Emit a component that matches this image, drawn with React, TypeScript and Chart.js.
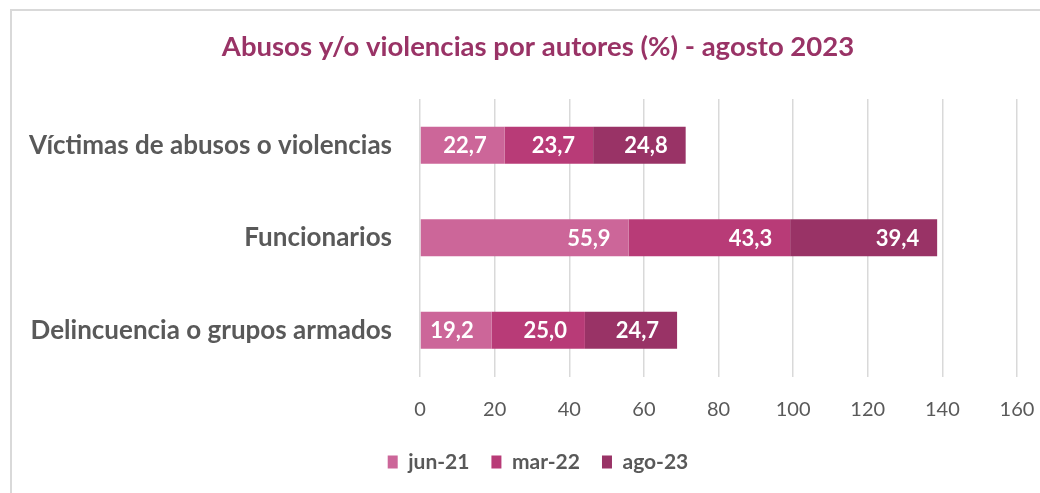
import React, { useEffect, useRef } from "react";
import { Chart, registerables } from "chart.js";

Chart.register(...registerables);

const categories = [
  "Víctimas de abusos o violencias",
  "Funcionarios",
  "Delincuencia o grupos armados",
];
const seriesNames = ["jun-21", "mar-22", "ago-23"];
const jun21 = [22.7, 55.9, 19.2];
const mar22 = [23.7, 43.3, 25.0];
const ago23 = [24.8, 39.4, 24.7];
const seriesColors = ["#CC6699", "#B83B77", "#993366"];
const xTicks = [0, 20, 40, 60, 80, 100, 120, 140, 160];
const titleText = "Abusos y/o violencias por autores (%) - agosto 2023";

const FONT = "Lato, 'Open Sans', sans-serif";

const valueLabels = {
  id: "valueLabels",
  afterDatasetsDraw(chart: any) {
    const ctx = chart.ctx;
    ctx.save();
    ctx.fillStyle = "#FFFFFF";
    ctx.font = `bold 22px ${FONT}`;
    ctx.textAlign = "right";
    ctx.textBaseline = "middle";
    chart.data.datasets.forEach((ds: any, i: number) => {
      const meta = chart.getDatasetMeta(i);
      meta.data.forEach((bar: any, j: number) => {
        const v = ds.data[j];
        const txt = v.toFixed(1).replace(".", ",");
        ctx.fillText(txt, bar.x - 18, bar.y + 1);
      });
    });
    ctx.restore();
  },
};

// shift the horizontal centring box of title and legend (the frame is wider than the view)
const centerShift = {
  id: "centerShift",
  afterLayout(chart: any) {
    [chart.titleBlock, chart.legend].forEach((b: any) => {
      if (b) {
        b.left += 49;
        b.width -= 49;
      }
    });
  },
};

export default function App() {
  const ref = useRef<HTMLCanvasElement>(null);
  useEffect(() => {
    if (!ref.current) return;
    const data = [jun21, mar22, ago23];
    const chart = new Chart(ref.current, {
      type: "bar",
      data: {
        labels: categories,
        datasets: seriesNames.map((name, i) => ({
          label: name,
          data: data[i],
          backgroundColor: seriesColors[i],
          borderWidth: 0,
          barPercentage: 1,
          categoryPercentage: 0.4,
        })),
      },
      options: {
        indexAxis: "y",
        animation: false,
        responsive: false,
        maintainAspectRatio: false,
        layout: { padding: { left: 0, right: 49, top: 0, bottom: 10.5 } },
        scales: {
          x: {
            stacked: true,
            min: 0,
            max: 160,
            afterBuildTicks: (axis: any) => {
              axis.ticks = xTicks.map((v) => ({ value: v }));
            },
            afterFit: (axis: any) => {
              axis.height = 53;
            },
            grid: { color: "#D9D9D9", lineWidth: 1.5, drawTicks: false },
            border: { display: false },
            ticks: {
              color: "#595959",
              font: { family: FONT, size: 20 },
              padding: 21,
            },
          },
          y: {
            stacked: true,
            afterFit: (axis: any) => {
              axis.width = 410;
            },
            grid: { display: false, drawTicks: false },
            border: { display: false },
            ticks: {
              color: "#595959",
              font: { family: FONT, size: 26, weight: "bold" },
              padding: 28,
            },
          },
        },
        plugins: {
          title: {
            display: true,
            text: titleText,
            color: "#993366",
            font: { family: FONT, size: 27.5, weight: "bold" },
            padding: { top: 22, bottom: 35 },
          },
          legend: {
            position: "bottom",
            labels: {
              color: "#595959",
              font: { family: FONT, size: 21, weight: "bold" },
              boxWidth: 10,
              boxHeight: 13,
              padding: 22,
            },
          },
          tooltip: { enabled: false },
        },
      },
      plugins: [valueLabels, centerShift],
    } as any);
    return () => chart.destroy();
  }, []);

  return (
    <div
      style={{
        position: "fixed",
        left: 0,
        top: 0,
        width: 1040,
        height: 493,
        overflow: "hidden",
        background: "#fff",
      }}
    >
      <div
        style={{
          position: "absolute",
          left: 10,
          top: 9,
          width: 1200,
          height: 700,
          borderLeft: "2px solid #D9D9D9",
          borderTop: "2px solid #D9D9D9",
        }}
      />
      <canvas
        ref={ref}
        width={1056}
        height={484}
        style={{ position: "absolute", left: 10, top: 9, width: 1056, height: 484 }}
      />
    </div>
  );
}
